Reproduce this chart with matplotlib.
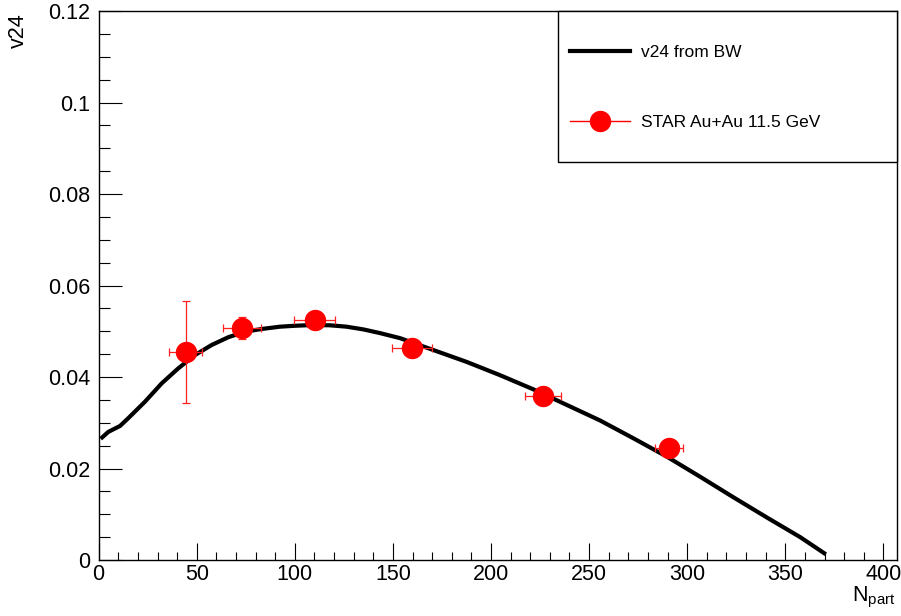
import matplotlib
matplotlib.use("Agg")
import matplotlib.pyplot as plt
from matplotlib.lines import Line2D
from matplotlib.patches import Rectangle
from matplotlib.ticker import MultipleLocator

plt.rcParams['font.family'] = ['Liberation Sans', 'DejaVu Sans']
plt.rcParams['mathtext.fontset'] = 'custom'
plt.rcParams['mathtext.rm'] = 'Liberation Sans'
plt.rcParams['mathtext.it'] = 'Liberation Sans'

# blast-wave curve
bw_npart = [1.8, 4.9, 10.9, 15.1, 23.6, 32.1, 40.6, 49.1, 57.6, 66.1, 74.6,
            83.1, 92.4, 100, 109.4, 118, 126.4, 135, 143.4, 153.6, 162, 170.6,
            187.6, 204.6, 221.6, 238.6, 255.6, 272.6, 289.6, 306.6, 323.6,
            340.6, 357.6, 369.8]
bw_v24 = [0.0268, 0.0280, 0.0293, 0.0310, 0.0346, 0.0386, 0.0419, 0.0448,
          0.0470, 0.0487, 0.0499, 0.0505, 0.0510, 0.0512, 0.05137, 0.0513,
          0.0510, 0.0504, 0.0496, 0.0485, 0.0472, 0.0459, 0.0433, 0.0404,
          0.0373, 0.0339, 0.0305, 0.0266, 0.0226, 0.0182, 0.0137, 0.0093,
          0.0050, 0.0015]

# STAR Au+Au 11.5 GeV
star_npart = [44.3, 72.9, 110.2, 159.8, 226.4, 290.8]
star_v24 = [0.0455, 0.0507, 0.0525, 0.0464, 0.0359, 0.0245]
star_xerr = [8.6, 9.6, 10.4, 10.3, 9.2, 7.3]
star_yerr = [0.0112, 0.0024, 0.0008, 0.0008, 0.0006, 0.0006]

fig = plt.figure(figsize=(9.01, 6.16), dpi=100)
ax = fig.add_axes([0.1095, 0.0909, 0.8866, 0.8912])

ax.plot(bw_npart, bw_v24, color='black', lw=3, zorder=2)
ax.errorbar(star_npart, star_v24, xerr=star_xerr, yerr=star_yerr, fmt='none',
            ecolor='#ff2020', elinewidth=0.9, capsize=3.2, capthick=0.9, zorder=3)
ax.plot(star_npart, star_v24, 'o', color='red', ms=14.4, mec='red', zorder=4)

ax.set_xlim(0, 407.2)
ax.set_ylim(0, 0.12)
ax.xaxis.set_major_locator(MultipleLocator(50))
ax.xaxis.set_minor_locator(MultipleLocator(10))
ax.yaxis.set_major_locator(MultipleLocator(0.02))
ax.yaxis.set_minor_locator(MultipleLocator(0.005))
ax.yaxis.set_major_formatter(plt.FuncFormatter(lambda v, p: '%g' % round(v, 3)))

ax.tick_params(axis='both', which='both', direction='in', top=False, right=False,
               width=0.8, colors='black', labelsize=15.5)
ax.tick_params(axis='x', which='major', length=12, pad=3)
ax.tick_params(axis='x', which='minor', length=6)
ax.tick_params(axis='y', which='major', length=16.5, pad=6.3)
ax.tick_params(axis='y', which='minor', length=8)
for s in ax.spines.values():
    s.set_linewidth(1)

fig.text(0.9945, 0.050, r'N$_{\mathrm{part}}$', ha='right', va='top', fontsize=15.5)
fig.text(0.020, 0.979, 'v24', ha='center', va='top', rotation=90, fontsize=15.5)

# legend box
ax.add_patch(Rectangle((0.5746, 0.725), 0.4254, 0.275, transform=ax.transAxes,
                       facecolor='white', edgecolor='black', lw=1, clip_on=False, zorder=5))
handles = [Line2D([], [], color='black', lw=3),
           Line2D([], [], color='red', lw=1, marker='o', ms=14.4)]
leg = ax.legend(handles, ['v24 from BW', 'STAR Au+Au 11.5 GeV'], loc='center left',
                bbox_to_anchor=(0.590, 0.8607), frameon=False, borderpad=0,
                borderaxespad=0, fontsize=12.5, handlelength=3.45,
                handletextpad=0.63, labelspacing=3.15)
leg.set_zorder(6)

fig.savefig('out.png', dpi=100)
